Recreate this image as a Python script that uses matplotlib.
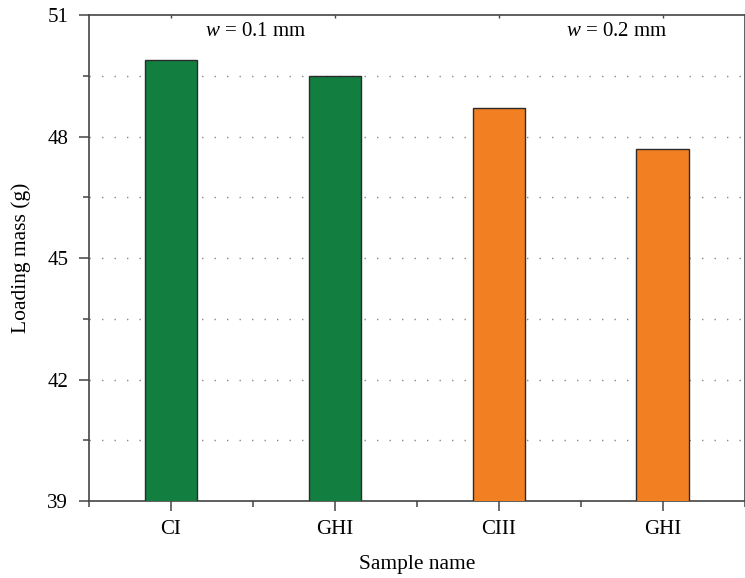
import matplotlib
matplotlib.use("Agg")
from matplotlib import pyplot as plt
from matplotlib.ticker import MultipleLocator, FixedLocator
import numpy as np

# data
samples = ["CI", "GHI", "CIII", "GHI"]
loading_mass = [49.9, 49.5, 48.7, 47.7]
bar_colors = ["#127F40", "#127F40", "#F28022", "#F28022"]
notes = ["$w$ = 0.1 mm", "$w$ = 0.2 mm"]

plt.rcParams["font.family"] = ["Liberation Serif", "DejaVu Serif"]
plt.rcParams["mathtext.fontset"] = "custom"
plt.rcParams["mathtext.rm"] = "Liberation Serif"
plt.rcParams["mathtext.it"] = "Liberation Serif:italic"

fig = plt.figure(figsize=(7.45, 5.78), dpi=100)
ax = fig.add_axes([0.1195, 0.1332, 0.8800, 0.8408])

x = np.arange(len(samples))
ax.bar(x, loading_mass, width=0.32, color=bar_colors, edgecolor="#2b2b2b",
       linewidth=1.0, zorder=3)

ax.set_xlim(-0.5, len(samples) - 0.5)
ax.set_ylim(39, 51)

# y ticks
ax.yaxis.set_major_locator(MultipleLocator(3))
ax.yaxis.set_minor_locator(MultipleLocator(1.5))
ax.tick_params(axis="y", which="major", direction="out", length=7, width=1.1,
               color="#444444", labelsize=15, pad=8)
ax.tick_params(axis="y", which="minor", direction="out", length=4, width=1.1,
               color="#444444")

# x ticks
ax.set_xticks(x)
ax.set_xticklabels(samples)
ax.xaxis.set_minor_locator(FixedLocator(np.arange(-0.5, len(samples), 1.0)))
ax.tick_params(axis="x", which="major", direction="out", length=7, width=1.1,
               color="#444444", labelsize=15, pad=7)
ax.tick_params(axis="x", which="minor", direction="out", length=4, width=1.1,
               color="#444444")

# tiny inward ticks on the top spine
top = ax.secondary_xaxis("top")
top.set_xticks(x)
top.tick_params(direction="in", length=2, width=1.0, color="#444444",
                labeltop=False)
top.spines["top"].set_visible(False)

# dotted grid every 1.5
for yv in np.arange(40.5, 51, 1.5):
    ax.axhline(yv, color="#888888", linestyle=(0, (1, 8)), linewidth=1.0, zorder=1)

for s in ax.spines.values():
    s.set_color("#444444")
    s.set_linewidth(1.2)

ax.set_ylabel("Loading mass (g)", fontsize=15.5, labelpad=12)
ax.set_xlabel("Sample name", fontsize=15.5, labelpad=11)

ax.text(0.52, 50.6, notes[0], fontsize=15, ha="center", va="center")
ax.text(2.72, 50.6, notes[1], fontsize=15, ha="center", va="center")

fig.savefig("out.png", dpi=100)
